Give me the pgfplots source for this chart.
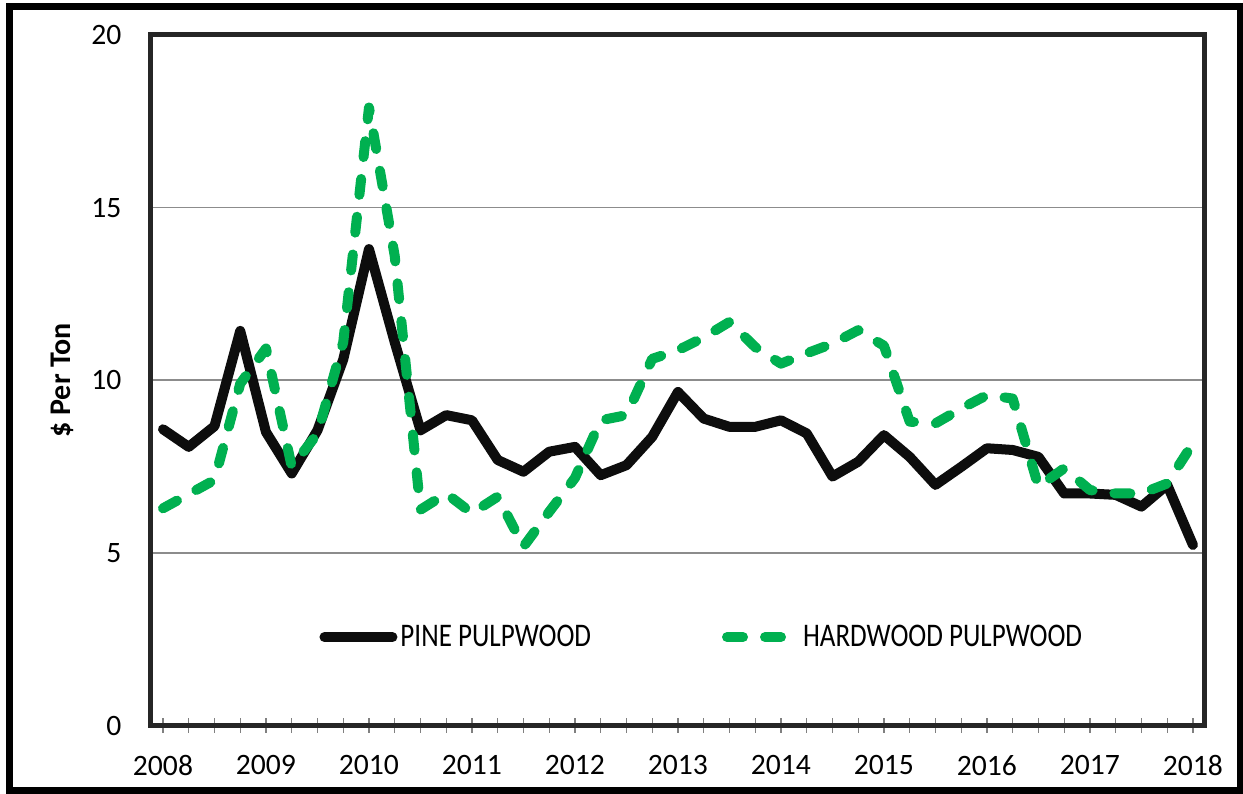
\documentclass[border=0pt]{standalone}
\usepackage{fontspec}
\setmainfont{Carlito}
\usepackage{graphicx}
\usepackage{pgfplots}
\pgfplotsset{compat=1.18}
\definecolor{hwgreen}{RGB}{0,176,80}
\pgfplotstableread{
q pine
0 8.58
1 8.07
2 8.67
3 11.43
4 8.50
5 7.30
6 8.55
7 10.60
8 13.80
9 11.10
10 8.55
11 8.99
12 8.84
13 7.69
14 7.35
15 7.93
16 8.07
17 7.25
18 7.54
19 8.36
20 9.66
21 8.89
22 8.65
23 8.65
24 8.84
25 8.46
26 7.21
27 7.64
28 8.41
29 7.78
30 6.97
31 7.49
32 8.03
33 7.98
34 7.78
35 6.72
36 6.72
37 6.68
38 6.34
39 6.97
40 5.23
}\pinedata
\pgfplotstableread{
q hard
0 6.29
1 6.70
2 7.11
3 9.90
4 10.92
5 7.50
6 8.45
7 11.10
8 17.90
9 13.60
10 6.25
11 6.72
12 6.15
13 6.63
14 5.18
15 6.19
16 7.17
17 8.84
18 8.99
19 10.62
20 10.87
21 11.24
22 11.69
23 10.96
24 10.48
25 10.78
26 11.06
27 11.45
28 11.00
29 8.80
30 8.75
31 9.18
32 9.57
33 9.47
34 6.92
35 7.45
36 6.82
37 6.72
38 6.72
39 7.01
40 8.17
}\harddata
\begin{document}
\begin{tikzpicture}[x=1pt,y=1pt]
\useasboundingbox (-75.25,-33.75) rectangle (546.25,362.75);
\draw[line width=3.5pt] (-70.25,-32.5) rectangle (545,359.5);
\begin{axis}[
  at={(0pt,0pt)}, anchor=south west,
  scale only axis, width=526.75pt, height=345.25pt,
  xmin=-0.485, xmax=40.43, ymin=0, ymax=20,
  xtick={0,4,...,40},
  xticklabels={2008,2009,2010,2011,2012,2013,2014,2015,2016,2017,2018},
  minor xtick={0,...,40},
  ytick={0,5,10,15,20},
  ymajorgrids, grid style={black!45, line width=0.75pt},
  axis line style={black!85, line width=2.5pt},
  tick align=center, xtick pos=bottom,
  major tick length=7pt, minor tick length=7pt,
  every tick/.append style={black!50, line width=0.6pt},
  ytick style={draw=none},
  tick label style={font=\fontsize{14.8}{16}\selectfont},
  /pgf/number format/assume math mode=true,
  yticklabel style={xshift=-7.5pt},
  xticklabel style={yshift=-8pt},
  ylabel={\$ Per Ton},
  ylabel style={at={(axis description cs:-0.0836,0.5)}, anchor=center, font=\fontsize{15}{18}\selectfont\bfseries},
  legend columns=2,
  legend cell align=left,
  legend style={at={(axis description cs:0.16,0.128)}, anchor=west, draw=none, fill=none,
    inner sep=0pt, nodes={inner sep=1.5pt},
    font=\fontsize{16.5}{18}\selectfont,
    /tikz/every even column/.append style={column sep=64pt}},
  legend image code/.code={\draw[#1] (0pt,0pt) -- (34pt,0pt);},
]
\addplot[black!95, line width=5pt, line join=round, line cap=round] table[x=q,y=pine] {\pinedata};
\addlegendentry{\scalebox{0.82}[1]{PINE PULPWOOD}}
\addplot[hwgreen, line width=5pt, line join=round, line cap=round, dash pattern=on 8pt off 11pt] table[x=q,y=hard] {\harddata};
\addlegendentry{\scalebox{0.82}[1]{HARDWOOD PULPWOOD}}
\end{axis}
\end{tikzpicture}
\end{document}
